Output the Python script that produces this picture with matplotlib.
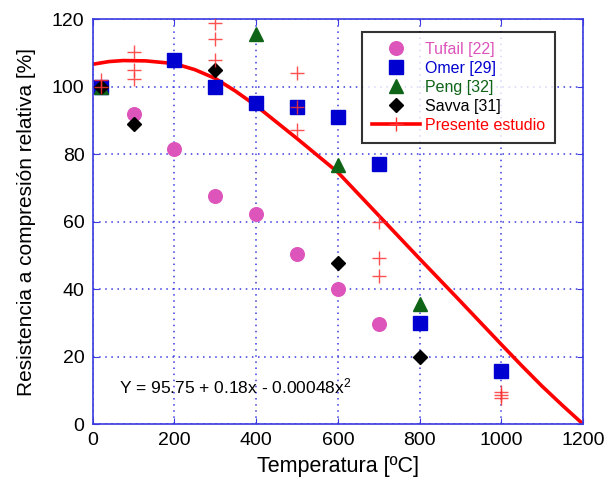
import matplotlib
matplotlib.use("Agg")
from matplotlib import pyplot as plt
from matplotlib.lines import Line2D

plt.rcParams['font.family'] = ['Liberation Sans', 'DejaVu Sans']
plt.rcParams['mathtext.default'] = 'regular'

# datos
tufailT = [20, 100, 200, 300, 400, 500, 600, 700]
tufailR = [100, 91.8, 81.4, 67.5, 62.2, 50.3, 39.9, 29.6]

omerT = [20, 200, 300, 400, 500, 600, 700, 800, 1000]
omerR = [100, 108.0, 99.9, 95.0, 94.0, 91.0, 77.0, 29.8, 15.7]

pengT = [20, 400, 600, 800]
pengR = [100, 115.5, 76.7, 35.7]

savvaT = [20, 100, 300, 600, 800]
savvaR = [100, 88.8, 104.8, 47.8, 19.9]

estT = [20, 20, 100, 100, 100, 300, 300, 300, 500, 500, 500, 700, 700, 700, 1000, 1000, 1000]
estR = [100, 102, 110.3, 104.8, 102.2, 118.8, 114.0, 108.0, 104.1, 93.8, 87.0, 59.9, 49.3, 43.8, 9.5, 8.5, 7.6]

# curva de ajuste
fitT = [0, 40, 75, 130, 200, 250, 300, 350, 400, 500, 600, 700, 800, 895, 1000, 1050, 1100, 1150, 1200]
fitR = [106.6, 107.4, 107.7, 107.6, 106.8, 105.0, 102.4, 98.6, 94.3, 84.6, 74.6, 61.8, 49.0, 37.0, 23.6, 17.3, 11.2, 5.5, 0]

xTicks = [0, 200, 400, 600, 800, 1000, 1200]
yTicks = [0, 20, 40, 60, 80, 100, 120]

pink, blue, green, red = '#dd55bb', '#0000d0', '#0f6418', '#ff0000'
axisBlue = '#3a3ae0'

fig = plt.figure(figsize=(6.14, 4.88), dpi=100)
ax = fig.add_axes([0.151, 0.131, 0.7985, 0.830])

ax.plot(fitT, fitR, color=red, lw=2.6, zorder=2)
ax.plot(tufailT, tufailR, 'o', color=pink, ms=9.8, mec=pink, zorder=3)
ax.plot(omerT, omerR, 's', color=blue, ms=10, mec=blue, zorder=4)
ax.plot(pengT, pengR, '^', color=green, ms=10, mec=green, zorder=5)
ax.plot(savvaT, savvaR, 'D', color='black', ms=7, zorder=6)
ax.plot(estT, estR, '+', color='#ff3333', ms=10, mew=1.0, alpha=0.85, zorder=7)

ax.set_xlim(0, 1200)
ax.set_ylim(0, 120)
ax.set_xticks(xTicks)
ax.set_yticks(yTicks)
ax.grid(True, color=axisBlue, ls=(0, (1, 3)), lw=1.1)
ax.tick_params(direction='in', length=4, color=axisBlue, top=True, right=True,
               labelsize=14, pad=6)
for s in ax.spines.values():
    s.set_color(axisBlue)
    s.set_linewidth(1.2)

ax.set_xlabel("Temperatura [ºC]", fontsize=15.5, labelpad=5)
ax.set_ylabel("Resistencia a compresión relativa [%]", fontsize=15, labelpad=11)

ax.text(64, 11, "Y = 95.75 + 0.18x - 0.00048x$^2$", fontsize=12.5, va='center')

handles = [
    Line2D([], [], ls='none', marker='o', color=pink, ms=9.8),
    Line2D([], [], ls='none', marker='s', color=blue, ms=10),
    Line2D([], [], ls='none', marker='^', color=green, ms=10),
    Line2D([], [], ls='none', marker='D', color='black', ms=7),
    Line2D([], [], color=red, lw=2.6, marker='+', ms=10, mew=1.0, mec='#ff3333'),
]
labels = ["Tufail [22]", "Omer [29]", "Peng [32]", "Savva [31]", "Presente estudio"]
leg = ax.legend(handles, labels, loc='upper right', bbox_to_anchor=(0.943, 0.967),
                borderaxespad=0, fontsize=11.5, frameon=True, fancybox=False,
                edgecolor='black', handlelength=3.0, handletextpad=0.35,
                labelspacing=0.25, borderpad=0.6, numpoints=1)
leg.get_frame().set_linewidth(1.5)
for txt, c in zip(leg.get_texts(), [pink, blue, green, 'black', red]):
    txt.set_color(c)

fig.savefig("out.png", dpi=100)
